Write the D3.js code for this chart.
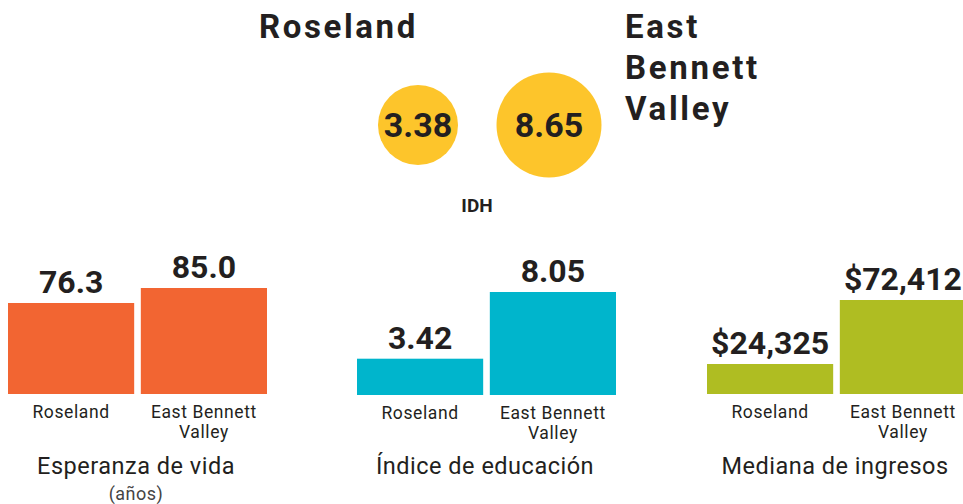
<!DOCTYPE html>
<html lang="es">
<head>
  <meta charset="UTF-8">
  <title>Roseland vs East Bennett Valley</title>
  <script src="https://d3js.org/d3.v7.min.js"></script>
  <style>
    body { margin: 0; background: #fff; }
    svg { font-family: Roboto, "Noto Sans", sans-serif; }
    .ink { fill: #231f20; }
  </style>
</head>
<body>
  <svg id="chart" width="963" height="504"></svg>

  <script>
    // datos
    const places = ["Roseland", "East Bennett Valley"];
    const idhValues = [3.38, 8.65];
    const idhLabels = ["3.38", "8.65"];

    const panelTitles = ["Esperanza de vida", "Índice de educación", "Mediana de ingresos"];
    const panelSubtitles = ["(años)", "", ""];
    const lifeValues = [76.3, 85.0];
    const eduValues = [3.42, 8.05];
    const incomeValues = [24325, 72412];
    const lifeLabels = ["76.3", "85.0"];
    const eduLabels = ["3.42", "8.05"];
    const incomeLabels = ["$24,325", "$72,412"];

    const svg = d3.select("#chart");

    // --- cabecera con burbujas IDH ---
    svg.append("text").attr("class", "ink")
      .attr("x", 259).attr("y", 38)
      .style("font-size", "33px").style("font-weight", "bold").style("letter-spacing", "2.6px")
      .text("Roseland");

    svg.append("text").attr("class", "ink")
      .attr("x", 625).attr("y", 38)
      .style("font-size", "33px").style("font-weight", "bold").style("letter-spacing", "2.7px")
      .selectAll("tspan")
      .data(["East", "Bennett", "Valley"])
      .enter().append("tspan")
      .attr("x", 625)
      .attr("dy", (d, i) => i === 0 ? 0 : 41)
      .text(d => d);

    const r = d3.scaleLinear().domain([-13.5, 8.65]).range([0, 52.5]);
    const cx = d3.scalePoint().domain(places).range([418, 549]);

    const bubbles = svg.append("g").selectAll("g")
      .data(places.map((p, i) => ({ p, v: idhValues[i], label: idhLabels[i] })))
      .enter().append("g")
      .attr("transform", d => `translate(${cx(d.p)},125)`);

    bubbles.append("circle").attr("r", d => r(d.v)).attr("fill", "#fdc52b");
    bubbles.append("text").attr("class", "ink")
      .attr("text-anchor", "middle").attr("y", 12)
      .style("font-size", "34px").style("font-weight", "bold")
      .text(d => d.label);

    svg.append("text").attr("class", "ink")
      .attr("x", 477).attr("y", 212).attr("text-anchor", "middle")
      .style("font-size", "19px").style("font-weight", "bold")
      .text("IDH");

    // --- paneles de barras ---
    const panels = [
      { values: lifeValues, labels: lifeLabels, color: "#f26532", x0: 8, domain: [23.5, 85], hMax: 106, base: 394 },
      { values: eduValues, labels: eduLabels, color: "#00b5cc", x0: 357, domain: [0.9, 8.05], hMax: 103, base: 395 },
      { values: incomeValues, labels: incomeLabels, color: "#afbd22", x0: 707, domain: [1784, 72412], hMax: 94, base: 394 }
    ];

    panels.forEach((pn, k) => {
      const g = svg.append("g");
      const x = d3.scaleBand().domain(places).range([pn.x0, pn.x0 + 259]).paddingInner(0.05);
      const y = d3.scaleLinear().domain(pn.domain).range([pn.base, pn.base - pn.hMax]);
      const rows = places.map((p, i) => ({ p, v: pn.values[i], label: pn.labels[i] }));

      g.selectAll("rect").data(rows).enter().append("rect")
        .attr("x", d => x(d.p)).attr("width", x.bandwidth())
        .attr("y", d => y(d.v)).attr("height", d => pn.base - y(d.v))
        .attr("fill", pn.color);

      g.selectAll(".val").data(rows).enter().append("text")
        .attr("class", "val ink").attr("text-anchor", "middle")
        .attr("x", d => x(d.p) + x.bandwidth() / 2)
        .attr("y", d => y(d.v) - 10)
        .style("font-size", "32px").style("font-weight", "bold")
        .text(d => d.label);

      // etiquetas de categoría
      const cat = g.selectAll(".cat").data(rows).enter().append("text")
        .attr("class", "cat ink").attr("text-anchor", "middle")
        .attr("y", pn.base + 24)
        .style("font-size", "17.5px").style("letter-spacing", "0.6px");
      cat.selectAll("tspan")
        .data(d => (d.p === "Roseland" ? ["Roseland"] : ["East Bennett", "Valley"]).map(t => ({ t, d })))
        .enter().append("tspan")
        .attr("x", o => x(o.d.p) + x.bandwidth() / 2)
        .attr("dy", (o, i) => i === 0 ? 0 : 20)
        .text(o => o.t);

      const cxp = pn.x0 + 128;
      g.append("text").attr("class", "ink").attr("text-anchor", "middle")
        .attr("x", cxp).attr("y", 474)
        .style("font-size", "23.5px").style("letter-spacing", "0.5px")
        .text(panelTitles[k]);

      if (panelSubtitles[k]) {
        g.append("text").attr("text-anchor", "middle")
          .attr("x", cxp).attr("y", 500)
          .style("font-size", "18px").style("fill", "#444").style("letter-spacing", "0.5px")
          .text(panelSubtitles[k]);
      }
    });
  </script>
</body>
</html>
